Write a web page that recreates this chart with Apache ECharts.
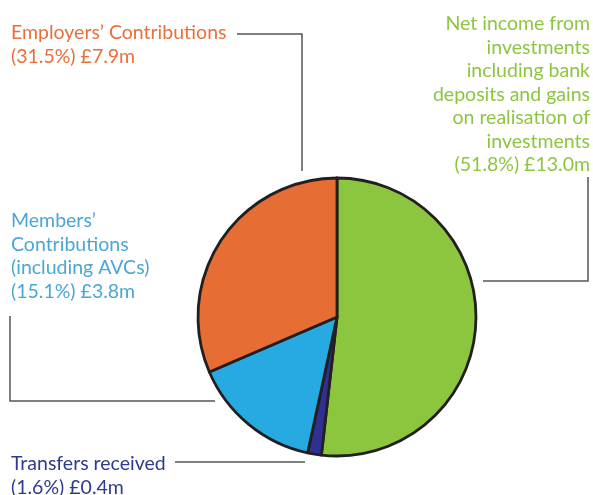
<!DOCTYPE html>
<html>
<head>
<meta charset="utf-8">
<script src="https://cdn.jsdelivr.net/npm/echarts@6/dist/echarts.min.js"></script>
<style>
  html, body { margin: 0; padding: 0; background: #fff; }
  #chart { width: 593px; height: 495px; }
</style>
</head>
<body>
<div id="chart"></div>
<script>
// income sources, clockwise from 12 o'clock
var names = [
  'Net income from\ninvestments\nincluding bank\ndeposits and gains\non realisation of\ninvestments',
  'Transfers received',
  'Members\u2019\nContributions\n(including AVCs)',
  'Employers\u2019 Contributions'
];
var values = [13.0, 0.4, 3.8, 7.9];
var colors = ['#8cc63f', '#2e3192', '#27aae1', '#e66d34'];
var textColors = ['#8cc63f', '#2e3a8f', '#4aa6d6', '#e8703a'];

// label anchors (x, y, align)
var labelPos = [
  { x: 590, y: 12, align: 'right' },
  { x: 11, y: 452, align: 'left' },
  { x: 11, y: 209, align: 'left' },
  { x: 11, y: 21, align: 'left' }
];

var lineStyle = { stroke: '#555', lineWidth: 1.5, fill: null };

var chart = echarts.init(document.getElementById('chart'));
var option = {
  animation: false,
  backgroundColor: '#fff',
  series: [
    {
      type: 'pie',
      center: [337, 317],
      radius: [0, 139],
      startAngle: 90,
      clockwise: true,
      percentPrecision: 1,
      silent: true,
      itemStyle: { borderColor: '#231f20', borderWidth: 2.8 },
      label: {
        show: true,
        position: 'outside',
        overflow: 'none',
        width: 300,
        fontFamily: 'Lato, "Open Sans", sans-serif',
        fontWeight: 400,
        fontSize: 19.5,
        lineHeight: 23.5,
        formatter: function (p) {
          var v = p.value.toFixed(1);
          var last = '(' + p.percent.toFixed(1) + '%) \u00a3' + v + 'm';
          return p.name + '\n' + last;
        }
      },
      labelLine: { show: false },
      labelLayout: function (p) {
        var pos = labelPos[p.dataIndex];
        return { x: pos.x, y: pos.y, align: pos.align, verticalAlign: 'top', hideOverlap: false, moveOverlap: false };
      },
      data: values.map(function (v, i) {
        return {
          name: names[i],
          value: v,
          itemStyle: { color: colors[i] },
          label: { color: textColors[i], align: labelPos[i].align }
        };
      })
    }
  ],
  graphic: [
    { type: 'polyline', shape: { points: [[237, 34], [302, 34], [302, 171]] }, style: lineStyle },
    { type: 'polyline', shape: { points: [[588, 177], [588, 281], [483, 281]] }, style: lineStyle },
    { type: 'polyline', shape: { points: [[10, 316], [10, 401], [215, 401]] }, style: lineStyle },
    { type: 'polyline', shape: { points: [[175, 462], [305, 462]] }, style: lineStyle }
  ]
};
chart.setOption(option);
</script>
</body>
</html>
